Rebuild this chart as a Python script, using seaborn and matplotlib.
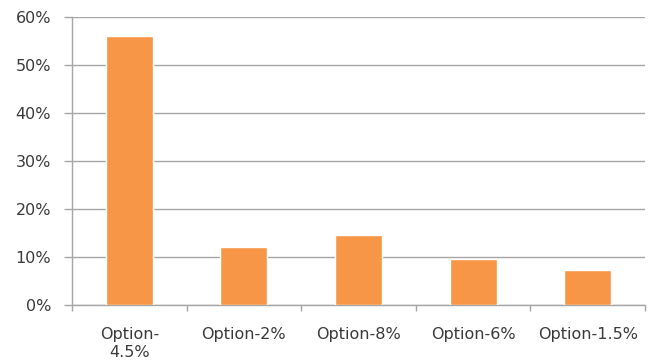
import matplotlib
matplotlib.use("Agg")
import matplotlib.pyplot as plt
import seaborn as sns
import pandas as pd
from matplotlib.ticker import PercentFormatter, FixedLocator

categories = ["Option-\n4.5%", "Option-2%", "Option-8%", "Option-6%", "Option-1.5%"]
shares = [0.56, 0.12, 0.146, 0.096, 0.072]
y_ticks = [0.0, 0.1, 0.2, 0.3, 0.4, 0.5, 0.6]

df = pd.DataFrame({"option": categories, "share": shares})

sns.set_theme(style="white")
plt.rcParams["font.family"] = ["DejaVu Sans"]

fig = plt.figure(figsize=(6.59, 3.60), dpi=100)
ax = fig.add_axes([72 / 659, 55 / 360, 573 / 659, 288 / 360])

sns.barplot(data=df, x="option", y="share", color="#F79646", saturation=1,
            width=0.41, ax=ax, zorder=3)

ax.set_ylim(0, 0.6)
ax.set_xlim(-0.5, len(categories) - 0.5)
ax.yaxis.set_major_locator(FixedLocator(y_ticks))
ax.yaxis.set_major_formatter(PercentFormatter(1.0, decimals=0))
ax.grid(axis="y", color="#A6A6A6", linewidth=1.0, zorder=0)
ax.set_xlabel("")
ax.set_ylabel("")

for side in ("top", "right"):
    ax.spines[side].set_visible(False)
for side in ("left", "bottom"):
    ax.spines[side].set_color("#A6A6A6")
    ax.spines[side].set_linewidth(1.0)

ax.tick_params(axis="y", length=6, width=1.0, color="#A6A6A6", pad=9,
               labelsize=11.5, labelcolor="#3A3A3A", left=True)
ax.tick_params(axis="x", which="major", length=0, pad=15.5,
               labelsize=11.5, labelcolor="#3A3A3A")
ax.set_xticks([i - 0.5 for i in range(len(categories) + 1)], minor=True)
ax.tick_params(axis="x", which="minor", length=4, width=1.0, color="#A6A6A6",
               bottom=True)
for lbl in ax.get_xticklabels():
    lbl.set_linespacing(1.3)
    lbl.set_verticalalignment("top")

fig.savefig("out.png", dpi=100, facecolor="white")
